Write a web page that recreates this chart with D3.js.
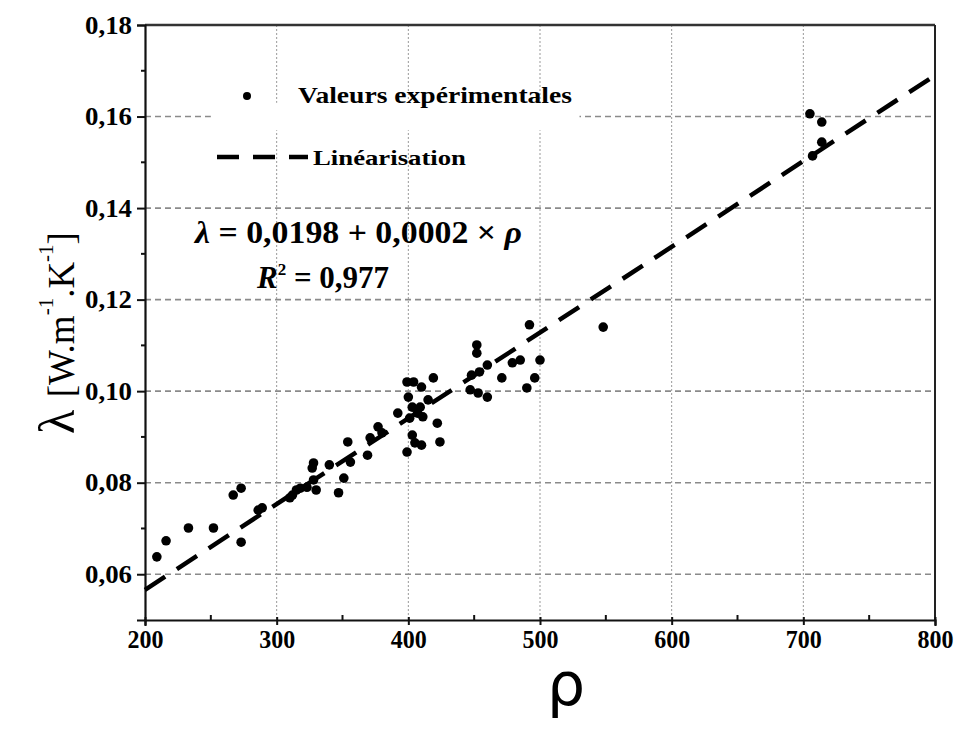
<!DOCTYPE html>
<html>
<head>
<meta charset="utf-8">
<script src="https://cdn.jsdelivr.net/npm/d3@7"></script>
<style>
  body { margin: 0; background: #fff; }
  svg { display: block; }
  .tick text { font-family: "Liberation Serif", serif; font-weight: bold; font-size: 25px; fill: #000; }
</style>
</head>
<body>
<div id="chart"></div>
<script>
var rho = [209, 216, 233, 252, 273, 267, 273, 286, 289,
  310, 312, 315, 318, 323, 327, 328, 328, 330, 340, 347, 351, 354, 356, 369, 371, 377, 392,
  380, 399, 404, 410, 419, 400, 403, 407, 411, 415, 401, 409, 422, 424, 399, 410, 403, 405,
  447, 453, 460, 452, 452, 448, 454, 460, 471, 479, 485, 490, 496, 500, 492, 548,
  705, 714, 714, 707];
var lambda = [0.0638, 0.0673, 0.0701, 0.0701, 0.0670, 0.0773, 0.0788, 0.0740, 0.0745,
  0.0767, 0.0773, 0.0784, 0.0788, 0.0790, 0.0832, 0.0806, 0.0843, 0.0784, 0.0839, 0.0778, 0.0810, 0.0889, 0.0845, 0.0860, 0.0898, 0.0922, 0.0952,
  0.0909, 0.1020, 0.1020, 0.1009, 0.1029, 0.0987, 0.0965, 0.0952, 0.0944, 0.0981, 0.0941, 0.0965, 0.0930, 0.0889, 0.0867, 0.0882, 0.0904, 0.0887,
  0.1003, 0.0996, 0.0987, 0.1101, 0.1083, 0.1035, 0.1042, 0.1057, 0.1029, 0.1062, 0.1068, 0.1007, 0.1029, 0.1068, 0.1145, 0.1140,
  0.1606, 0.1588, 0.1544, 0.1514];

// linear fit as drawn
var fitRho = [200, 800];
var fitLambda = [0.0566, 0.169];

var xTicks = [200, 300, 400, 500, 600, 700, 800];
var xMinor = [250, 350, 450, 550, 650, 750];
var yTicks = [0.06, 0.08, 0.10, 0.12, 0.14, 0.16, 0.18];
var yMinor = [0.07, 0.09, 0.11, 0.13, 0.15, 0.17];
var xGrid = [300, 400, 500, 600, 700];
var yGrid = [0.06, 0.08, 0.10, 0.12, 0.14, 0.16];

var margin = {top: 25, right: 40, bottom: 125, left: 145},
    W = 975, H = 745,
    width = W - margin.left - margin.right,
    height = H - margin.top - margin.bottom;

var svg = d3.select("#chart").append("svg").attr("width", W).attr("height", H);
var g = svg.append("g").attr("transform", "translate(" + margin.left + "," + margin.top + ")");

var x = d3.scaleLinear().domain([200, 800]).range([0, width]);
var y = d3.scaleLinear().domain([0.05, 0.18]).range([height, 0]);

var comma = function(f) { return function(d) { return f(d).replace(".", ","); }; };

// grid
g.selectAll(".hgrid").data(yGrid).enter().append("line")
  .attr("x1", 0).attr("x2", width)
  .attr("y1", function(d) { return y(d); }).attr("y2", function(d) { return y(d); })
  .attr("stroke", "#8a8a8a").attr("stroke-width", 1.6).attr("stroke-dasharray", "6,4");
g.selectAll(".vgrid").data(xGrid).enter().append("line")
  .attr("y1", 0).attr("y2", height)
  .attr("x1", function(d) { return x(d); }).attr("x2", function(d) { return x(d); })
  .attr("stroke", "#999").attr("stroke-width", 1).attr("stroke-dasharray", "2,2");

// white patch where the legend hides the grid
g.append("rect").attr("x", x(250)).attr("y", y(0.163)).attr("width", x(530) - x(250)).attr("height", y(0.157) - y(0.163)).attr("fill", "#fff");

// frame
g.append("line").attr("x1", 0).attr("x2", width).attr("y1", 0).attr("y2", 0).attr("stroke", "#333").attr("stroke-width", 2.5);
g.append("line").attr("x1", width).attr("x2", width).attr("y1", 0).attr("y2", height).attr("stroke", "#222").attr("stroke-width", 2);

// axes
var xAxis = g.append("g").attr("transform", "translate(0," + height + ")")
  .call(d3.axisBottom(x).tickValues(xTicks).tickSize(6).tickPadding(1).tickFormat(d3.format("d")));
var yAxis = g.append("g")
  .call(d3.axisLeft(y).tickValues(yTicks).tickSize(8).tickPadding(5).tickFormat(comma(d3.format(".2f"))));
[xAxis, yAxis].forEach(function(a) {
  a.select(".domain").attr("stroke", "#111").attr("stroke-width", 2.2);
  a.selectAll(".tick line").attr("stroke", "#111").attr("stroke-width", 2);
});
xAxis.selectAll(".tick line").attr("y1", -3).attr("y2", 5);
xAxis.selectAll(".tick text").attr("dy", "0.85em")
  .attr("textLength", 36).attr("lengthAdjust", "spacingAndGlyphs");
yAxis.selectAll(".tick text")
  .attr("textLength", 47).attr("lengthAdjust", "spacingAndGlyphs");

g.selectAll(".xminor").data(xMinor).enter().append("line")
  .attr("x1", function(d) { return x(d); }).attr("x2", function(d) { return x(d); })
  .attr("y1", height).attr("y2", height - 5).attr("stroke", "#111").attr("stroke-width", 2);
g.selectAll(".yminor").data(yMinor).enter().append("line")
  .attr("y1", function(d) { return y(d); }).attr("y2", function(d) { return y(d); })
  .attr("x1", 0).attr("x2", -4).attr("stroke", "#111").attr("stroke-width", 2);

// fit line
g.append("path")
  .datum(d3.range(fitRho.length))
  .attr("d", d3.line().x(function(i) { return x(fitRho[i]); }).y(function(i) { return y(fitLambda[i]); }))
  .attr("fill", "none").attr("stroke", "#000").attr("stroke-width", 4.5)
  .attr("stroke-dasharray", "24,14");

// points
g.selectAll(".pt").data(d3.range(rho.length)).enter().append("circle")
  .attr("cx", function(i) { return x(rho[i]); })
  .attr("cy", function(i) { return y(lambda[i]); })
  .attr("r", 4.8).attr("fill", "#000");

// legend
var serif = "Liberation Serif, serif";
svg.append("circle").attr("cx", 247).attr("cy", 96).attr("r", 4).attr("fill", "#000");
svg.append("text").attr("x", 298).attr("y", 103)
  .attr("font-family", serif).attr("font-weight", "bold").attr("font-size", 24)
  .attr("textLength", 274).attr("lengthAdjust", "spacingAndGlyphs")
  .text("Valeurs expérimentales");
svg.append("line").attr("x1", 217).attr("x2", 308).attr("y1", 157).attr("y2", 157)
  .attr("stroke", "#000").attr("stroke-width", 4.5).attr("stroke-dasharray", "22,14");
svg.append("text").attr("x", 313).attr("y", 165)
  .attr("font-family", serif).attr("font-weight", "bold").attr("font-size", 22)
  .attr("textLength", 153).attr("lengthAdjust", "spacingAndGlyphs")
  .text("Linéarisation");

// equation
var eq = svg.append("text").attr("x", 195).attr("y", 243)
  .attr("font-family", serif).attr("font-size", 31).attr("font-weight", "bold")
  .attr("textLength", 327).attr("lengthAdjust", "spacingAndGlyphs");
eq.append("tspan").attr("font-style", "italic").text("λ");
eq.append("tspan").text(" = 0,0198 + 0,0002 × ");
eq.append("tspan").attr("font-style", "italic").text("ρ");
var r2 = svg.append("text").attr("x", 257).attr("y", 288)
  .attr("font-family", serif).attr("font-size", 31).attr("font-weight", "bold");
r2.append("tspan").attr("font-style", "italic").text("R");
r2.append("tspan").attr("font-size", 17).attr("dy", -13).text("2");
r2.append("tspan").attr("dy", 13).text(" = 0,977");

// y label
var yl = svg.append("text").attr("transform", "translate(74,434) rotate(-90)")
  .attr("font-family", serif);
yl.append("tspan").attr("font-size", 50).text("λ ");
yl.append("tspan").attr("font-size", 37).text("[W.m");
yl.append("tspan").attr("font-size", 21).attr("dy", -21).text("-1");
yl.append("tspan").attr("font-size", 37).attr("dy", 21).text(".K");
yl.append("tspan").attr("font-size", 21).attr("dy", -21).text("-1");
yl.append("tspan").attr("font-size", 37).attr("dy", 21).text("]");

// x label
svg.append("text").attr("x", 566).attr("y", 705).attr("text-anchor", "middle")
  .attr("font-family", "DejaVu Sans, sans-serif").attr("font-size", 60).text("ρ");
</script>
</body>
</html>
